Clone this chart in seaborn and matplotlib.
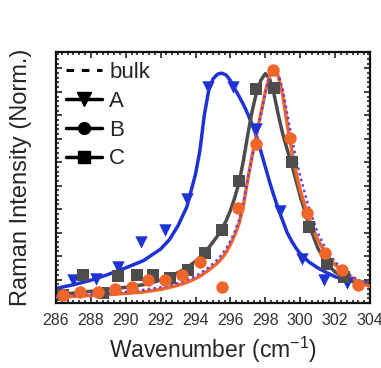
import matplotlib
matplotlib.use("Agg")
import matplotlib.pyplot as plt
from matplotlib.lines import Line2D
from matplotlib.ticker import MultipleLocator, AutoMinorLocator
import seaborn as sns

# fitted curves on a shared wavenumber grid
curve_x = [286, 287, 288, 289, 290, 291, 292, 292.5, 293, 293.5, 294, 294.25, 294.5,
           294.75, 295, 295.25, 295.5, 295.75, 296, 296.25, 296.5, 296.75, 297, 297.25,
           297.5, 297.75, 298, 298.25, 298.5, 298.75, 299, 299.25, 299.5, 299.75, 300,
           300.5, 301, 301.5, 302, 302.5, 303, 303.5, 304]
fit_a = [0.062, 0.078, 0.097, 0.122, 0.15, 0.18, 0.23, 0.27, 0.33, 0.41, 0.55, 0.65, 0.80,
         0.905, 0.955, 0.975, 0.98, 0.972, 0.948, 0.913, 0.88, 0.845, 0.805, 0.76,
         0.71, 0.645, 0.58, 0.515, 0.455, 0.40, 0.35, 0.30, 0.265, 0.235, 0.21,
         0.175, 0.15, 0.13, 0.112, 0.10, 0.092, 0.084, 0.077]
fit_b = [0.025, 0.028, 0.032, 0.036, 0.041, 0.047, 0.058, 0.066, 0.076, 0.088, 0.104, 0.114, 0.127,
         0.14, 0.155, 0.17, 0.19, 0.215, 0.25, 0.29, 0.34, 0.42, 0.53, 0.63,
         0.72, 0.81, 0.90, 0.97, 0.995, 0.965, 0.885, 0.765, 0.655, 0.56, 0.48,
         0.36, 0.27, 0.205, 0.163, 0.13, 0.105, 0.085, 0.07]
fit_c = [0.035, 0.042, 0.05, 0.058, 0.067, 0.078, 0.097, 0.112, 0.13, 0.15, 0.178, 0.195, 0.213,
         0.235, 0.26, 0.285, 0.315, 0.35, 0.395, 0.45, 0.515, 0.61, 0.72, 0.82,
         0.90, 0.95, 0.978, 0.955, 0.89, 0.80, 0.72, 0.655, 0.595, 0.525, 0.455,
         0.335, 0.235, 0.17, 0.132, 0.11, 0.097, 0.09, 0.084]
fit_bulk = [0.03, 0.033, 0.037, 0.042, 0.048, 0.056, 0.067, 0.075, 0.085, 0.098, 0.115, 0.126, 0.138,
            0.152, 0.168, 0.185, 0.206, 0.232, 0.265, 0.305, 0.355, 0.43, 0.53, 0.625,
            0.715, 0.805, 0.895, 0.965, 0.995, 0.975, 0.91, 0.81, 0.71, 0.62, 0.54,
            0.405, 0.30, 0.225, 0.175, 0.14, 0.112, 0.092, 0.078]

# measured points
a_x = [286.96, 288.29, 289.57, 290.86, 292.22, 293.51, 294.73, 296.15, 297.45, 298.84,
       300.09, 301.37, 302.71]
a_y = [0.096, 0.104, 0.154, 0.26, 0.313, 0.445, 0.922, 0.922, 0.742, 0.394, 0.188, 0.099, 0.084]
b_x = [286.42, 287.38, 288.43, 289.38, 290.34, 291.29, 292.25, 293.21, 294.26, 295.5,
       296.45, 297.47, 298.46, 299.42, 300.37, 301.42, 302.38, 303.33]
b_y = [0.034, 0.048, 0.048, 0.058, 0.067, 0.098, 0.098, 0.119, 0.176, 0.067,
       0.407, 0.678, 0.993, 0.705, 0.382, 0.212, 0.141, 0.077]
c_x = [286.4, 287.55, 288.69, 289.57, 290.63, 291.58, 292.54, 293.59, 294.54, 295.5,
       296.49, 297.44, 298.5, 299.51, 300.51, 301.52, 302.51]
c_y = [0.034, 0.119, 0.043, 0.117, 0.119, 0.119, 0.107, 0.141, 0.213, 0.311,
       0.52, 0.912, 0.915, 0.602, 0.325, 0.166, 0.109]

x_ticks = list(range(286, 305, 2))

BLUE = "#1f33d4"
ORANGE = "#f0662a"
GRAY = "#4d4d4d"
BULK = "#6a3fd8"

sns.set_style("ticks")
plt.rcParams["font.family"] = ["Liberation Sans", "DejaVu Sans"]
plt.rcParams["mathtext.fontset"] = "custom"
plt.rcParams["mathtext.rm"] = "Liberation Sans"

fig = plt.figure(figsize=(3.81, 3.68), dpi=100)
ax = fig.add_axes([56 / 381, 1 - 303 / 368, 314 / 381, 251 / 368])

sns.lineplot(x=curve_x, y=fit_a, ax=ax, color=BLUE, lw=2.5, zorder=2)
sns.lineplot(x=curve_x, y=fit_c, ax=ax, color=GRAY, lw=2.5, zorder=2)
sns.lineplot(x=curve_x, y=fit_b, ax=ax, color=ORANGE, lw=2.5, zorder=3)
sns.lineplot(x=curve_x, y=fit_bulk, ax=ax, color=BULK, lw=1.8, zorder=4,
             linestyle=(0, (1.0, 1.3)))

sns.scatterplot(x=a_x, y=a_y, ax=ax, color=BLUE, marker="v", s=80, linewidth=0, zorder=5)
sns.scatterplot(x=c_x, y=c_y, ax=ax, color=GRAY, marker="s", s=70, linewidth=0, zorder=5)
sns.scatterplot(x=b_x, y=b_y, ax=ax, color=ORANGE, marker="o", s=80, linewidth=0, zorder=6)

ax.set_xlim(286, 304)
ax.set_ylim(0, 1.07)
ax.set_xticks(x_ticks)
ax.xaxis.set_minor_locator(AutoMinorLocator(6))
ax.yaxis.set_major_locator(MultipleLocator(0.1))
ax.yaxis.set_minor_locator(MultipleLocator(0.02))
ax.tick_params(which="both", direction="in", top=True, right=True, width=1.2, color="#222222")
ax.tick_params(which="major", length=4.5, labelsize=11.5, labelcolor="#333333", pad=7)
ax.tick_params(which="minor", length=2.5)
ax.tick_params(axis="y", labelleft=False)
for sp in ax.spines.values():
    sp.set_linewidth(1.6)
    sp.set_color("#111111")

ax.set_xlabel("Wavenumber (cm$^{-1}$)", fontsize=16.5, labelpad=5)
ax.set_ylabel("Raman Intensity (Norm.)", fontsize=17, labelpad=14)

handles = [
    Line2D([], [], color="black", lw=2.2, linestyle=(0, (2.5, 2.5))),
    Line2D([], [], color="black", lw=2.5, marker="v", markersize=10),
    Line2D([], [], color="black", lw=2.5, marker="o", markersize=8.5),
    Line2D([], [], color="black", lw=2.5, marker="s", markersize=8),
]
ax.legend(handles, ["bulk", "A", "B", "C"], loc="upper left", frameon=False,
          fontsize=16, handlelength=1.6, handletextpad=0.35, labelspacing=0.35,
          borderaxespad=0.15, borderpad=0.3)

fig.savefig("out.png", dpi=100)
